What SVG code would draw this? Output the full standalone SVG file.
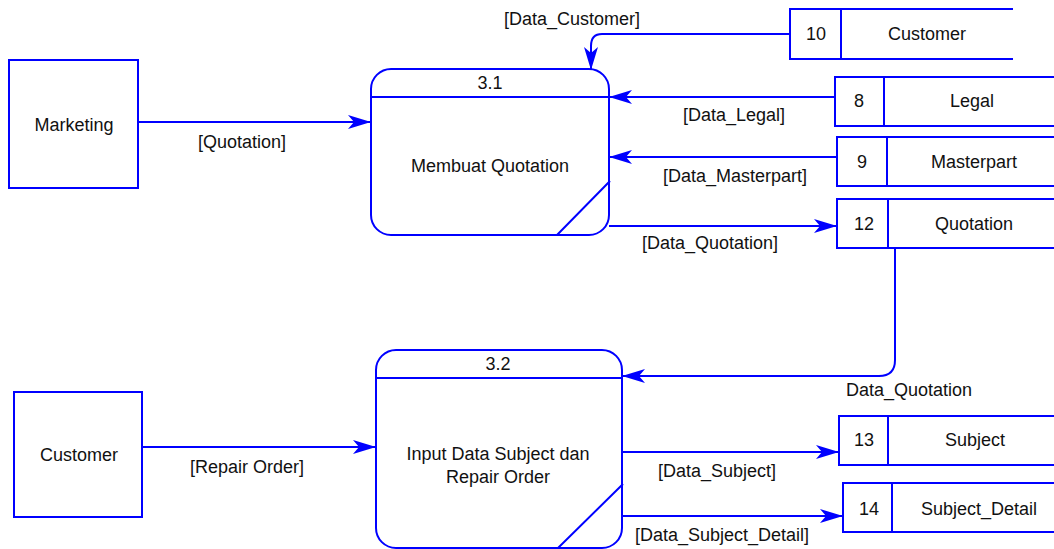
<svg xmlns="http://www.w3.org/2000/svg" width="1054" height="549" viewBox="0 0 1054 549">
  <defs>
    <marker id="arrow" markerUnits="userSpaceOnUse" markerWidth="24" markerHeight="14" viewBox="0 0 24 14" refX="23" refY="7" orient="auto">
      <path d="M0,0 L23,7 L0,14 L6,7 z" fill="#0000ff"/>
    </marker>
    <style>
      .ln { fill: none; stroke: #0000ff; stroke-width: 2; }
      .box { fill: #ffffff; stroke: #0000ff; stroke-width: 2; }
      .flow { fill: none; stroke: #0000ff; stroke-width: 2; marker-end: url(#arrow); }
      text { font-family: "Liberation Sans", Arial, sans-serif; font-size: 18px; fill: #111111; text-anchor: middle; }
    </style>
  </defs>
  <rect width="1054" height="549" fill="#ffffff"/>

  <!-- external entities -->
  <g id="marketing">
    <rect class="box" x="9" y="60" width="129" height="128"/>
    <text x="74" y="131">Marketing</text>
  </g>
  <g id="customer-entity">
    <rect class="box" x="14" y="392" width="128" height="125"/>
    <text x="79" y="461">Customer</text>
  </g>

  <!-- processes -->
  <g id="process-3-1">
    <rect class="box" x="371" y="69" width="238" height="166" rx="20" ry="20"/>
    <path class="ln" d="M371,97 H609 M557,235 L610,181"/>
    <text x="490" y="89">3.1</text>
    <text x="490" y="172">Membuat Quotation</text>
  </g>
  <g id="process-3-2">
    <rect class="box" x="376" y="350" width="246" height="198" rx="20" ry="20"/>
    <path class="ln" d="M376,378 H622 M557,549 L623,484"/>
    <text x="498" y="370">3.2</text>
    <text x="498" y="460">Input Data Subject dan</text>
    <text x="498" y="483">Repair Order</text>
  </g>

  <!-- data stores -->
  <g id="store-10">
    <path class="ln" d="M1013,9 H790 V59 H1013 M841,9 V59"/>
    <text x="816" y="40">10</text>
    <text x="927" y="40">Customer</text>
  </g>
  <g id="store-8">
    <path class="ln" d="M1060,77 H835 V126 H1060 M884,77 V126"/>
    <text x="859" y="107">8</text>
    <text x="972" y="107">Legal</text>
  </g>
  <g id="store-9">
    <path class="ln" d="M1060,137 H837 V186 H1060 M887,137 V186"/>
    <text x="862" y="168">9</text>
    <text x="974" y="168">Masterpart</text>
  </g>
  <g id="store-12">
    <path class="ln" d="M1060,199 H837 V248 H1060 M888,199 V248"/>
    <text x="864" y="230">12</text>
    <text x="974" y="230">Quotation</text>
  </g>
  <g id="store-13">
    <path class="ln" d="M1060,416 H839 V465 H1060 M888,416 V465"/>
    <text x="864" y="446">13</text>
    <text x="975" y="446">Subject</text>
  </g>
  <g id="store-14">
    <path class="ln" d="M1060,483 H843 V532 H1060 M892,483 V532"/>
    <text x="869" y="515">14</text>
    <text x="979" y="515">Subject_Detail</text>
  </g>

  <!-- data flows -->
  <g id="connectors">
    <path class="flow" d="M790,34 H602 Q591,34 591,46 V70"/>
    <path class="flow" d="M138,122 H371"/>
    <path class="flow" d="M835,97 H609"/>
    <path class="flow" d="M837,157 H609"/>
    <path class="flow" d="M609,226 H837"/>
    <path class="flow" d="M142,447 H376"/>
    <path class="flow" d="M895,248 V360 Q895,376 879,376 H622"/>
    <path class="flow" d="M622,452 H839"/>
    <path class="flow" d="M622,516 H843"/>

    <text x="572" y="25">[Data_Customer]</text>
    <text x="242" y="148">[Quotation]</text>
    <text x="734" y="121">[Data_Legal]</text>
    <text x="735" y="182">[Data_Masterpart]</text>
    <text x="710" y="249">[Data_Quotation]</text>
    <text x="909" y="396">Data_Quotation</text>
    <text x="247" y="473">[Repair Order]</text>
    <text x="717" y="477">[Data_Subject]</text>
    <text x="722" y="541">[Data_Subject_Detail]</text>
  </g>
</svg>
